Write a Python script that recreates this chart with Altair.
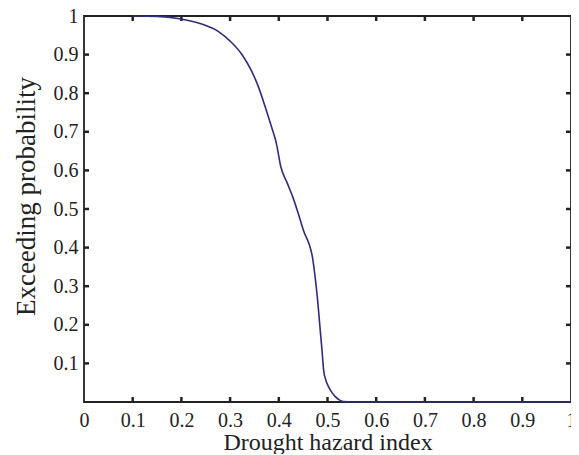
import altair as alt
import pandas as pd

# Curve
hazard = [0.10, 0.15, 0.196, 0.24, 0.277, 0.30, 0.325, 0.345, 0.358, 0.372,
          0.385, 0.395, 0.404, 0.418, 0.431, 0.442, 0.452, 0.462, 0.469, 0.474,
          0.479, 0.485, 0.489, 0.492, 0.497, 0.502, 0.509, 0.516, 0.525, 0.533,
          0.55, 1.0]
prob = [1.0, 0.999, 0.993, 0.98, 0.959, 0.935, 0.899, 0.855, 0.817, 0.765,
        0.713, 0.67, 0.61, 0.565, 0.523, 0.48, 0.44, 0.41, 0.376, 0.33,
        0.273, 0.187, 0.13, 0.083, 0.055, 0.04, 0.025, 0.014, 0.005, 0.001,
        0.0, 0.0]

x_ticks = [0, 0.1, 0.2, 0.3, 0.4, 0.5, 0.6, 0.7, 0.8, 0.9, 1]
y_ticks = [0.1, 0.2, 0.3, 0.4, 0.5, 0.6, 0.7, 0.8, 0.9, 1]
inner_ticks = [0.1, 0.2, 0.3, 0.4, 0.5, 0.6, 0.7, 0.8, 0.9]

W, H = 487, 386
FONT = "Liberation Serif"
INK = "#222222"
LINE = "#2f2d7a"

curve = pd.DataFrame({"h": hazard, "p": prob})
ticks = pd.DataFrame({"t": inner_ticks})

xs = alt.Scale(domain=[0, 1], nice=False, zero=False)
ys = alt.Scale(domain=[0, 1], nice=False, zero=False)

x_axis = alt.Axis(values=x_ticks, format="~g", title="Drought hazard index",
                  ticks=False, domain=False, grid=False, labelPadding=8,
                  titlePadding=0, titleFontSize=24, labelFlush=False)
y_axis = alt.Axis(values=y_ticks, format="~g", title="Exceeding probability",
                  ticks=False, domain=False, grid=False, labelPadding=6,
                  titleFontSize=27, titleX=-50, titleY=180,
                  titleBaseline="alphabetic", titleAngle=270, titleAlign="center",
                  labelFlush=False)

line = alt.Chart(curve).mark_line(color=LINE, strokeWidth=1.6,
                                  interpolate="monotone").encode(
    x=alt.X("h:Q", scale=xs, axis=x_axis),
    y=alt.Y("p:Q", scale=ys, axis=y_axis),
)

tick_style = dict(color=INK, strokeWidth=2.5)
bottom = alt.Chart(ticks).mark_rule(**tick_style).encode(
    x=alt.X("t:Q", scale=xs), y=alt.value(H), y2=alt.value(H - 5))
top = alt.Chart(ticks).mark_rule(**tick_style).encode(
    x=alt.X("t:Q", scale=xs), y=alt.value(0), y2=alt.value(5))
left = alt.Chart(ticks).mark_rule(**tick_style).encode(
    y=alt.Y("t:Q", scale=ys), x=alt.value(0), x2=alt.value(5))
right = alt.Chart(ticks).mark_rule(**tick_style).encode(
    y=alt.Y("t:Q", scale=ys), x=alt.value(W), x2=alt.value(W - 5))

chart = alt.layer(bottom, top, left, right, line).properties(
    width=W, height=H,
    autosize=alt.AutoSizeParams(type="none"),
    padding={"left": 76, "top": 8, "right": 0, "bottom": 52},
).configure_view(
    stroke=INK, strokeWidth=1.8
).configure_axis(
    labelFont=FONT, labelFontSize=20, labelColor=INK,
    titleFont=FONT, titleFontWeight="normal", titleColor=INK,
)

chart.save("out.html", embed_options={"renderer": "svg", "actions": False})
